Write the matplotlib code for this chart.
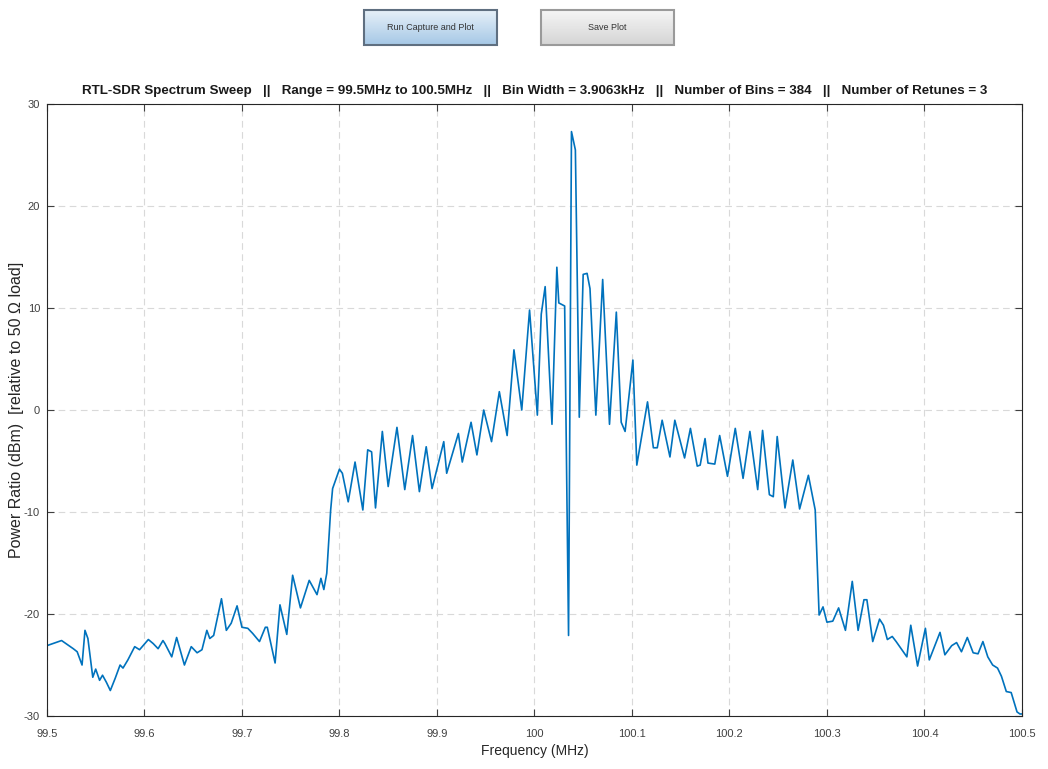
import numpy as np
import matplotlib
matplotlib.use("Agg")
import matplotlib.pyplot as plt
from matplotlib.patches import Rectangle
from matplotlib.colors import LinearSegmentedColormap

plt.rcParams['font.family'] = ['Liberation Sans', 'DejaVu Sans']
plt.rcParams['axes.unicode_minus'] = False

# spectrum trace (MHz, dBm)
freq_mhz = [
    99.500, 99.515, 99.527, 99.531, 99.536, 99.539, 99.542, 99.547, 99.550, 99.554,
    99.557, 99.561, 99.565, 99.570, 99.575, 99.578, 99.583, 99.590, 99.595, 99.604,
    99.609, 99.614, 99.619, 99.621, 99.628, 99.633, 99.641, 99.648, 99.654, 99.659,
    99.664, 99.667, 99.671, 99.679, 99.684, 99.689, 99.695, 99.700, 99.706, 99.711,
    99.718, 99.724, 99.726, 99.734, 99.739, 99.746, 99.752, 99.760, 99.769, 99.777,
    99.781, 99.784, 99.787, 99.791, 99.793, 99.800, 99.803, 99.809, 99.816, 99.824,
    99.829, 99.833, 99.837, 99.844, 99.850, 99.859, 99.867, 99.875, 99.882, 99.889,
    99.895, 99.907, 99.910, 99.922, 99.926, 99.935, 99.941, 99.948, 99.956, 99.964,
    99.972, 99.979, 99.987, 99.995, 100.003, 100.007, 100.011, 100.018,
    100.023, 100.025, 100.031, 100.035, 100.038, 100.042, 100.046, 100.050, 100.054, 100.057,
    100.063, 100.070, 100.077, 100.084, 100.089, 100.093, 100.101, 100.105, 100.116, 100.122,
    100.126, 100.131, 100.139, 100.144, 100.154, 100.160, 100.167, 100.170, 100.175, 100.178,
    100.185, 100.190, 100.198, 100.206, 100.214, 100.221, 100.229, 100.234, 100.241, 100.245,
    100.249, 100.257, 100.265, 100.272, 100.281, 100.288, 100.292, 100.296, 100.300, 100.306,
    100.312, 100.319, 100.326, 100.332, 100.338, 100.341, 100.347, 100.354, 100.358, 100.362,
    100.367, 100.371, 100.382, 100.386, 100.393, 100.401, 100.405, 100.416, 100.421, 100.428,
    100.433, 100.438, 100.444, 100.450, 100.455, 100.460, 100.465, 100.470, 100.475, 100.479,
    100.484, 100.489, 100.495, 100.498, 100.500,
]
power_dbm = [
    -23.1, -22.6, -23.4, -23.7, -25.0, -21.6, -22.4, -26.2, -25.4, -26.5,
    -26.0, -26.7, -27.5, -26.3, -25.0, -25.3, -24.5, -23.2, -23.5, -22.5,
    -22.9, -23.4, -22.6, -22.9, -24.2, -22.3, -25.0, -23.2, -23.8, -23.5,
    -21.6, -22.4, -22.1, -18.5, -21.6, -20.9, -19.2, -21.3, -21.4, -21.9,
    -22.7, -21.3, -21.3, -24.8, -19.1, -22.0, -16.2, -19.4, -16.7, -18.1,
    -16.5, -17.6, -16.0, -9.8, -7.7, -5.8, -6.2, -9.0, -5.1, -9.8,
    -3.9, -4.1, -9.6, -2.1, -7.5, -1.7, -7.8, -2.5, -8.0, -3.6,
    -7.7, -3.1, -6.2, -2.3, -5.1, -1.2, -4.4, 0.0, -3.1, 1.8,
    -2.5, 5.9, 0.0, 9.8, -0.5, 9.4, 12.1, -1.4,
    14.0, 10.5, 10.2, -22.1, 27.3, 25.5, -0.7, 13.3, 13.4, 11.9,
    -0.5, 12.8, -1.4, 9.6, -1.2, -2.1, 4.9, -5.4, 0.8, -3.7,
    -3.7, -1.0, -4.6, -1.0, -4.7, -1.8, -5.5, -5.4, -2.8, -5.2,
    -5.3, -2.5, -6.5, -1.8, -6.7, -2.1, -7.8, -2.0, -8.3, -8.5,
    -2.6, -9.6, -4.9, -9.7, -6.4, -9.8, -20.1, -19.3, -20.8, -20.7,
    -19.4, -21.6, -16.8, -21.6, -18.6, -18.6, -22.7, -20.5, -21.1, -22.5,
    -22.2, -22.7, -24.2, -21.1, -25.1, -21.4, -24.5, -21.8, -24.0, -23.1,
    -22.8, -23.7, -22.3, -23.8, -23.9, -22.7, -24.2, -25.0, -25.3, -26.1,
    -27.6, -27.7, -29.6, -29.8, -29.8,
]

xticks = [99.5, 99.6, 99.7, 99.8, 99.9, 100.0, 100.1, 100.2, 100.3, 100.4, 100.5]
xticklabels = ['99.5', '99.6', '99.7', '99.8', '99.9', '100', '100.1', '100.2', '100.3', '100.4', '100.5']
yticks = [-30, -20, -10, 0, 10, 20, 30]

title_txt = ('RTL-SDR Spectrum Sweep   ||   Range = 99.5MHz to 100.5MHz   ||   '
             'Bin Width = 3.9063kHz   ||   Number of Bins = 384   ||   Number of Retunes = 3')

fig = plt.figure(figsize=(10.48, 7.69), dpi=100)
fig.patch.set_facecolor('white')

blue_cm = LinearSegmentedColormap.from_list('b', ['#a6c8e6', '#e6f0f8'])
grey_cm = LinearSegmentedColormap.from_list('g', ['#d4d4d4', '#f6f6f6'])

# the two GUI buttons above the plot
def button(x0, label, cmap, edge):
    bax = fig.add_axes([x0, 0.9415, 0.127, 0.0455])
    bax.set_xlim(0, 1)
    bax.set_ylim(0, 1)
    bax.axis('off')
    grad = np.linspace(0, 1, 50).reshape(-1, 1)
    bax.imshow(grad, extent=[0, 1, 0, 1], aspect='auto', cmap=cmap, origin='lower')
    bax.add_patch(Rectangle((0, 0), 1, 1, fill=False, ec=edge, lw=1.5,
                            transform=bax.transAxes, clip_on=False))
    bax.text(0.5, 0.5, label, ha='center', va='center', fontsize=6.5, color='#333333')

button(0.347, 'Run Capture and Plot', blue_cm, '#5f6f80')
button(0.516, 'Save Plot', grey_cm, '#9a9a9a')

ax = fig.add_axes([0.0448, 0.0689, 0.9303, 0.7958])
ax.plot(freq_mhz, power_dbm, color='#0072BD', lw=1.2)
ax.set_xlim(99.5, 100.5)
ax.set_ylim(-30, 30)
ax.set_xticks(xticks)
ax.set_xticklabels(xticklabels)
ax.set_yticks(yticks)
ax.grid(True, ls=(0, (6, 4)), color='#d9d9d9', lw=0.8)
ax.tick_params(direction='in', length=5, labelsize=8, colors='#404040',
               top=True, right=True)
ax.tick_params(axis='x', pad=9)
ax.tick_params(axis='y', pad=5)
for s in ax.spines.values():
    s.set_color('#262626')
    s.set_linewidth(0.8)

ax.set_xlabel('Frequency (MHz)', fontsize=10, color='#262626', labelpad=4)
ax.set_ylabel('Power Ratio (dBm)  [relative to 50 \u03a9 load]', fontsize=11.5,
              color='#262626')
ax.yaxis.set_label_coords(-0.0235, 0.5)
ax.set_title(title_txt, fontsize=9.6, fontweight='bold', color='#1a1a1a', pad=7)

fig.savefig('out.png', dpi=100)
